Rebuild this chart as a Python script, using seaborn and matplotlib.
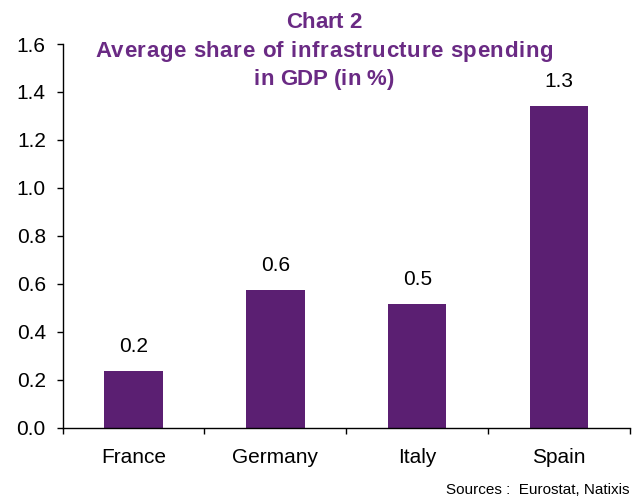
import matplotlib
matplotlib.use("Agg")
import matplotlib.pyplot as plt
from matplotlib.font_manager import FontProperties
import seaborn as sns
import pandas as pd

countries = ["France", "Germany", "Italy", "Spain"]
shares = [0.236, 0.574, 0.516, 1.342]
y_ticks = [0.0, 0.2, 0.4, 0.6, 0.8, 1.0, 1.2, 1.4, 1.6]
title_lines = ["Chart 2", "Average share of infrastructure spending", "in GDP (in %)"]
source_note = "Sources :  Eurostat, Natixis"

bar_color = "#5B1F72"
title_color = "#6A2A84"

sns.set_theme(style="white")
plt.rcParams["font.family"] = ["Liberation Sans", "DejaVu Sans"]

df = pd.DataFrame({"country": countries, "share": shares})

fig = plt.figure(figsize=(6.4, 4.97), dpi=100)
ax = fig.add_axes([0.0977, 0.1394, 0.887, 0.772])

sns.barplot(data=df, x="country", y="share", color=bar_color, saturation=1,
            width=0.41, ax=ax, edgecolor="none")

for patch, val in zip(ax.patches, shares):
    ax.annotate(f"{val:.1f}", (patch.get_x() + patch.get_width() / 2, patch.get_height()),
                xytext=(0, 11), textcoords="offset points", ha="center", va="bottom",
                fontsize=15, color="black")

ax.set_ylim(0, 1.6)
ax.set_xlim(-0.5, 3.5)
ax.set_yticks(y_ticks)
ax.set_yticklabels([f"{t:.1f}" for t in y_ticks])
ax.set_xlabel("")
ax.set_ylabel("")

# category separators as ticks along the bottom axis
ax.set_xticks([-0.5, 0.5, 1.5, 2.5, 3.5], minor=True)
ax.tick_params(axis="x", which="major", length=0, labelsize=15, pad=14.5, colors="black")
ax.tick_params(axis="x", which="minor", length=4.5, width=1, color="black", direction="out", bottom=True)
ax.tick_params(axis="y", which="major", length=4, width=1, color="black", direction="out",
               left=True, labelsize=15, pad=8, labelcolor="black")

for side in ["top", "right"]:
    ax.spines[side].set_visible(False)
for side in ["left", "bottom"]:
    ax.spines[side].set_color("black")
    ax.spines[side].set_linewidth(1)


def spaced_text(fig, xc, y, s, tracking_px, fp, **kw):
    """Draw s centred at figure fraction xc with extra letter spacing."""
    renderer = fig.canvas.get_renderer()
    fig_w = fig.get_figwidth() * fig.dpi

    def w(t):
        return renderer.get_text_width_height_descent(t, fp, ismath=False)[0]

    total = w(s) + tracking_px * (len(s) - 1)
    x0 = xc * fig_w - total / 2
    for i, ch in enumerate(s):
        if ch == " ":
            continue
        left = w(s[:i + 1]) - w(ch) + tracking_px * i
        fig.text((x0 + left) / fig_w, y, ch, ha="left", va="baseline",
                 fontproperties=fp, **kw)


title_font = FontProperties(family=["Liberation Sans", "DejaVu Sans"], weight="bold", size=16)
baselines = [0.9437, 0.8853, 0.829]
tracking = [0.0, 0.6, 0.0]
for line, y, tr in zip(title_lines, baselines, tracking):
    spaced_text(fig, 0.506, y, line, tr, title_font, color=title_color)

fig.text(0.984, 0.0, source_note, ha="right", va="bottom", fontsize=11, color="black")

fig.savefig("out.png", dpi=100)
